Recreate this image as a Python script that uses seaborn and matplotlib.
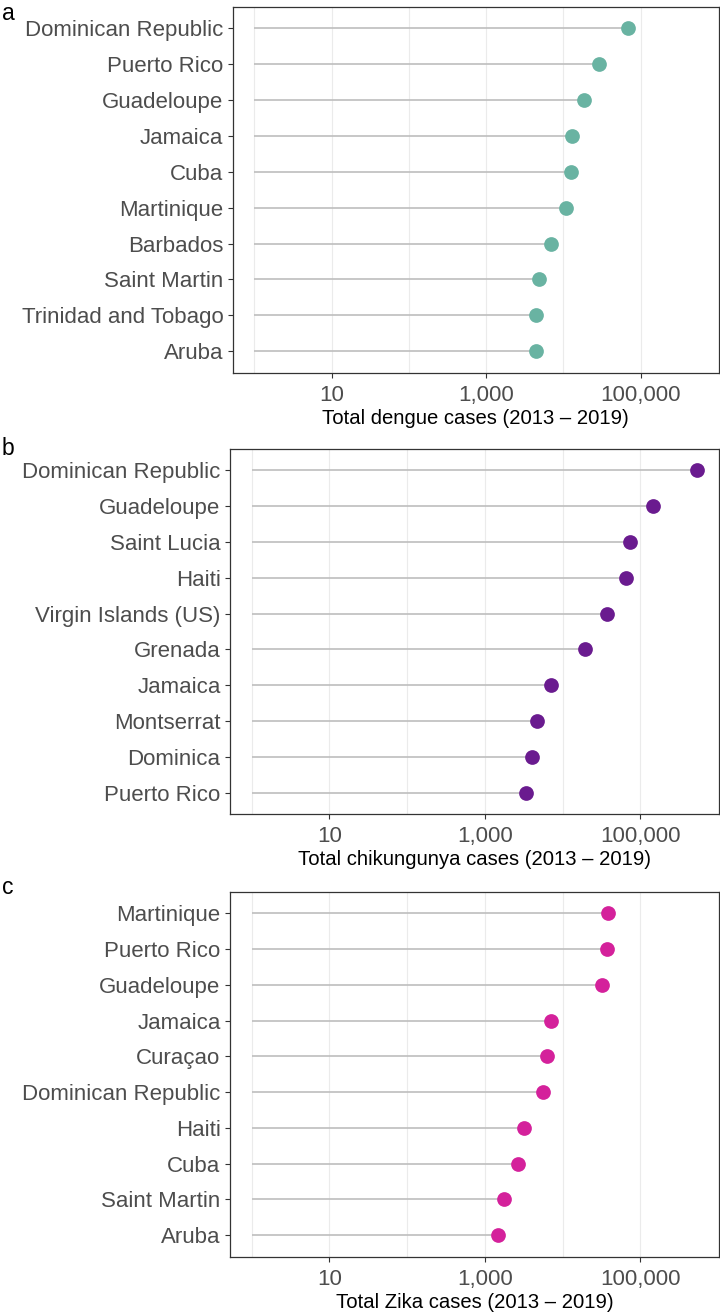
import numpy as np
import pandas as pd
import matplotlib
matplotlib.use("Agg")
import matplotlib.pyplot as plt
import seaborn as sns

# Data (approximate totals 2013-2019)
dengue_countries = ['Dominican Republic', 'Puerto Rico', 'Guadeloupe', 'Jamaica', 'Cuba',
                    'Martinique', 'Barbados', 'Saint Martin', 'Trinidad and Tobago', 'Aruba']
dengue_cases = [68700, 28900, 18400, 12800, 12500, 10800, 6900, 4820, 4450, 4400]

chik_countries = ['Dominican Republic', 'Guadeloupe', 'Saint Lucia', 'Haiti', 'Virgin Islands (US)',
                  'Grenada', 'Jamaica', 'Montserrat', 'Dominica', 'Puerto Rico']
chik_cases = [542000, 144000, 74000, 65300, 37200, 19300, 7200, 4650, 4050, 3360]

zika_countries = ['Martinique', 'Puerto Rico', 'Guadeloupe', 'Jamaica', 'Curaçao',
                  'Dominican Republic', 'Haiti', 'Cuba', 'Saint Martin', 'Aruba']
zika_cases = [38700, 37600, 32400, 7200, 6400, 5620, 3230, 2650, 1780, 1460]

major_ticks = [10, 1000, 100000]
major_labels = ['10', '1,000', '100,000']
minor_grid = [1, 100, 10000]

sns.set_theme(style="white")
plt.rcParams['font.family'] = ['Liberation Sans', 'DejaVu Sans']

W, H = 720, 1313
fig = plt.figure(figsize=(W / 100, H / 100), dpi=100)

panels = [
    ('a', dengue_countries, dengue_cases, '#69b3a2', 'Total dengue cases (2013 \u2013 2019)', (232.7, 6.7, 718.7, 372.7), 2),
    ('b', chik_countries, chik_cases, '#6a1b8f', 'Total chikungunya cases (2013 \u2013 2019)', (230, 449, 718.7, 814), 437),
    ('c', zika_countries, zika_cases, '#d4219b', 'Total Zika cases (2013 \u2013 2019)', (230, 891.7, 718.7, 1256.7), 876),
]

for letter, countries, cases, color, xlabel, box, letter_y in panels:
    x0, y0, x1, y1 = box
    ax = fig.add_axes([x0 / W, 1 - y1 / H, (x1 - x0) / W, (y1 - y0) / H])
    df = pd.DataFrame({'country': countries, 'cases': cases})

    # grey stems from 1 to value
    ax.hlines(y=np.arange(len(df)), xmin=1, xmax=df['cases'], color='#bebebe', lw=1.2, zorder=2)
    sns.stripplot(data=df, x='cases', y='country', ax=ax, color=color, size=10.6,
                  jitter=False, log_scale=True, linewidth=0, zorder=3)

    ax.set_xlim(10 ** -0.28, 10 ** 6.01)
    ax.set_ylim(len(df) - 0.4, -0.6)
    ax.set_xticks(major_ticks)
    ax.set_xticklabels(major_labels)
    ax.xaxis.set_minor_locator(matplotlib.ticker.NullLocator())
    for g in major_ticks + minor_grid:
        ax.axvline(g, color='#ebebeb', lw=0.8, zorder=1)

    ax.set_ylabel('')
    ax.set_xlabel(xlabel, fontsize=14.6, color='black', labelpad=2)
    ax.tick_params(axis='both', which='major', labelsize=16, labelcolor='#4d4d4d',
                   length=3.8, width=0.8, color='#333333', pad=3, left=True, bottom=True)
    ax.tick_params(axis='x', pad=5)
    for s in ax.spines.values():
        s.set_color('#333333')
        s.set_linewidth(0.9)
    ax.grid(False)
    fig.text(2 / W, 1 - letter_y / H, letter, fontsize=16.5, va='top', ha='left', color='black')

fig.savefig('out.png', dpi=100)
